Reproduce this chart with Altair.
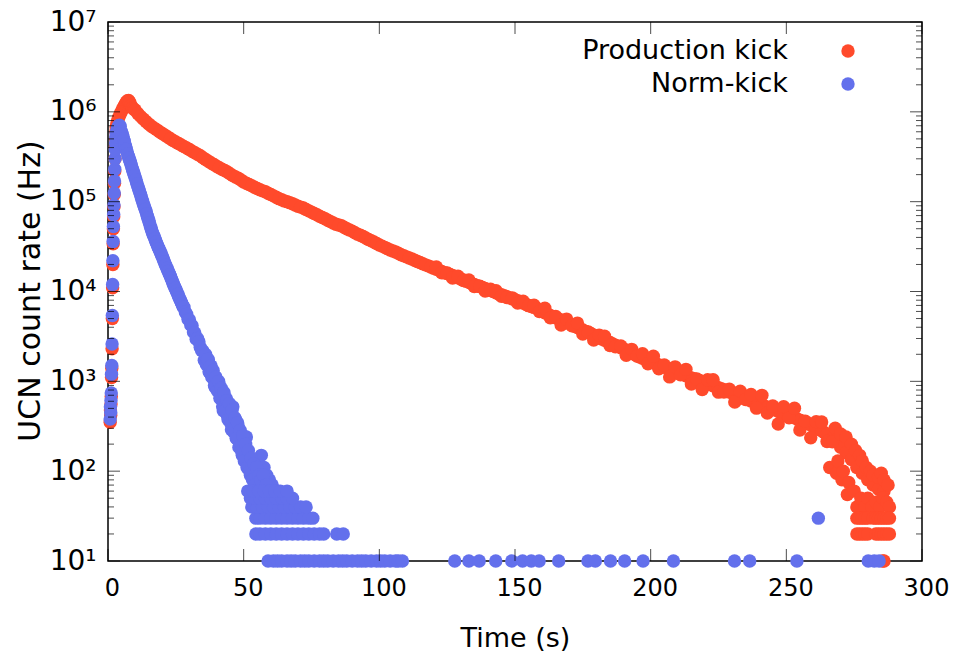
import altair as alt
import pandas as pd

series_names = ["Production kick", "Norm-kick"]
series_colors = ["#ff4a2b", "#6370ec"]

# ---- rising edge (shared times) ----
rise_t = [0.8, 0.9, 1.0, 1.1, 1.2, 1.3, 1.4, 1.5, 1.6, 1.7, 1.8, 1.9, 2.0, 2.1, 2.2, 2.3,
          2.4, 2.5, 2.6, 2.7, 2.8, 2.9, 3.0]
red_rise = [350, 480, 420, 560, 680, 1100, 1400, 2300, 5000, 11000, 20000, 34000, 50000,
            68000, 88000, 120000, 160000, 220000, 300000, 400000, 500000, 600000, 680000]
blue_rise = [380, 520, 450, 610, 740, 1200, 1500, 2600, 5400, 12000, 22000, 36000, 53000,
             72000, 92000, 125000, 170000, 230000, 300000, 380000, 450000, 520000, 580000]

# ---- production kick: peak region ----
red_peak_t = [3.3, 3.6, 4.0, 4.4, 4.8, 5.2, 5.6, 6.0, 6.4, 6.8, 7.2, 7.6, 8.0, 8.5, 9.0, 9.5, 10, 11]
red_peak_v = [750000, 810000, 870000, 930000, 990000, 1050000, 1110000, 1170000, 1230000,
              1290000, 1330000, 1340000, 1280000, 1180000, 1110000, 1070000, 1050000, 960000]

# ---- production kick: decay, every 2 s from 12 s to 286 s ----
red_decay_t = list(range(12, 288, 2))
red_decay_v = [890000, 780000, 690000, 630000, 575000, 525000, 480000, 445000, 410000, 380000,
               350000, 324000, 295000, 270000, 248000, 230000, 214000, 195000, 182000, 166000,
               155000, 145000, 136000, 129000, 120000, 112000, 105000, 100000, 95000, 89000,
               85000, 79000, 74000, 69000, 64500, 60000, 56000, 54000, 50000, 47000,
               43500, 41000, 38000, 35500, 33000, 31000, 29000, 27500, 25700, 24300,
               23000, 21600, 20400, 19300, 18200, 17200, 16200, 15500, 14600, 13800,
               13000, 12300, 11600, 11100, 10500, 10000, 9400, 9000, 8500, 8100,
               7700, 7200, 6800, 6500, 6000, 5600, 5250, 4950, 4700, 4400,
               4100, 3850, 3600, 3400, 3150, 2950, 2800, 2600, 2450, 2300,
               2150, 2000, 1860, 1760, 1660, 1570, 1480, 1410, 1330, 1260,
               1190, 1120, 1070, 1020, 965, 920, 870, 830, 785, 740,
               700, 660, 625, 590, 560, 530, 500, 480, 450, 425,
               405, 380, 360, 340, 315, 295, 270, 245, 220, 185,
               160, 135, 110, 95, 80, 70, 63, 60]

# ---- production kick: in-between points, odd seconds 13..119 ----
red_odd1_t = list(range(13, 121, 2))
red_odd1_v = [833000, 734000, 659000, 602000, 549000, 502000, 462000, 427000, 395000, 365000,
              337000, 309000, 282000, 259000, 239000, 222000, 204000, 188000, 174000, 160000,
              150000, 140000, 132000, 124000, 116000, 108000, 102000, 97500, 92000, 87000,
              82000, 76500, 71500, 66700, 62200, 58000, 55000, 52000, 48500, 45200,
              42200, 39500, 36700, 34200, 32000, 30000, 28200, 26600, 25000, 23600,
              22300, 21000, 19800, 18700]

# ---- production kick: band centre, odd seconds 121..267 ----
red_odd3_t = list(range(121, 269, 2))
red_odd3_v = [17700, 16700, 15850, 15050, 14200, 13400, 12650, 11950, 11350, 10800,
              10250, 9700, 9200, 8750, 8300, 7900, 7450, 7000, 6650, 6250,
              5800, 5420, 5100, 4820, 4550, 4250, 3970, 3720, 3500, 3270,
              3050, 2870, 2700, 2520, 2370, 2220, 2070, 1930, 1810, 1710,
              1610, 1520, 1440, 1370, 1290, 1220, 1150, 1090, 1040, 990,
              940, 895, 850, 805, 760, 720, 680, 640, 605, 575,
              545, 515, 490, 465, 437, 415, 392, 370, 350, 327,
              305, 282, 257, 232]

# ---- production kick: scattered points, odd seconds 121..267 ----
red_odd2_t = list(range(121, 269, 2))
red_odd2_v = [18800, 16200, 16100, 14150, 14800, 13240, 13400, 11380, 11420, 10150,
              10620, 10220, 8870, 8590, 8500, 7430, 7810, 6960, 7050, 5990,
              6500, 5090, 5280, 4240, 4930, 4150, 4450, 3360, 3540, 2880,
              3270, 3180, 2510, 2430, 2480, 1950, 2270, 1910, 2030, 1570,
              1900, 1380, 1520, 1120, 1450, 1180, 1360, 933, 1060, 812,
              1040, 1040, 758, 762, 815, 590, 778, 628, 714, 503,
              698, 443, 531, 335, 523, 392, 502, 287, 360, 235,
              356, 353, 214, 212]

# ---- production kick: tail ----
red_tail_t = [266, 268, 268.5, 269, 270, 270.5, 271, 272, 272.5, 273, 274, 275, 275.5, 276, 277,
              277.5, 278, 279, 279.5, 280, 281, 281.5, 282, 283, 284, 284.5, 285, 285.5, 286,
              287, 287.5, 288,
              276, 277, 278, 279, 280, 282, 283, 284, 285, 286, 287, 288,
              276, 277, 278, 279, 280, 283, 284, 285, 286, 287, 288,
              285.5, 286]
red_tail_v = [110, 300, 95, 130, 260, 80, 100, 240, 55, 75, 200, 60, 170, 40, 150,
              50, 130, 40, 110, 50, 100, 40, 90, 45, 85, 40, 95, 50, 80,
              45, 70, 40,
              30, 30, 30, 30, 30, 30, 30, 30, 30, 30, 30, 30,
              20, 20, 20, 20, 20, 20, 20, 20, 20, 20, 20,
              10, 10]

# ---- norm-kick: peak and smooth decay ----
blue_peak_t = [3.3, 3.6, 3.9, 4.2, 4.5]
blue_peak_v = [630000, 670000, 700000, 710000, 690000]
blue_decay_t = [5.0 + 0.5 * i for i in range(46)]
blue_decay_v = [600000, 530000, 470000, 410000, 360000, 320000, 290000, 260000, 230000, 207000,
                186000, 166000, 148000, 133000, 120000, 107000, 95000, 86000, 78000, 69000,
                62000, 55000, 49000, 44000, 41000, 37000, 34000, 31000, 29000, 26600,
                24500, 22400, 20400, 18800, 17400, 16000, 14800, 13500, 12300, 11400,
                10500, 9700, 8900, 8200, 7600, 7000]
blue_mid_t = [5.25 + 0.5 * i for i in range(46)]
blue_mid_v = [564000, 500000, 439000, 384000, 339000, 305000, 275000, 245000, 218000, 196000,
              176000, 157000, 140000, 126000, 113000, 101000, 90400, 81900, 73400, 65400,
              58400, 51900, 46400, 42500, 39000, 35500, 32500, 30000, 27800, 25500,
              23400, 21400, 19600, 18100, 16700, 15400, 14100, 12900, 11800, 10900,
              10100, 9300, 8540, 7900, 7290, 6700]
# ---- norm-kick: noisy part, every 0.5 s from 28 s to 61 s ----
blue_noisy_t = [28.0 + 0.5 * i for i in range(67)]
blue_noisy_v = [6700, 5900, 5600, 4900, 4850, 4250, 4150, 3550, 3450, 2950,
                3000, 2750, 2400, 2210, 2170, 1720, 1990, 1620, 1740, 1250,
                1480, 1100, 1150, 860, 1030, 834, 920, 642, 685, 470,
                660, 650, 416, 416, 462, 289, 520, 322, 375, 231,
                319, 206, 236, 150, 217, 160, 240, 116, 141, 90,
                130, 120, 80, 100, 90, 70, 110, 150, 70, 110,
                60, 90, 50, 80, 40, 70, 40]
blue_noisy2_t = [36.25 + 0.5 * i for i in range(40)] + [56.25, 56.75, 57.25, 58.25, 59.25,
                                                         60.5, 62.5, 64.5, 67]
blue_noisy2_v = [1540, 1760, 1280, 1470, 1120, 1320, 900, 1115, 790, 1000,
                 650, 840, 520, 750, 470, 610, 376, 565, 342, 480,
                 274, 394, 232, 347, 184, 284, 168, 250, 130, 200,
                 110, 170, 100, 140, 80, 120, 70, 110, 60, 90,
                 80, 60, 90, 70, 60, 50, 60, 40, 50]
# ---- norm-kick: low-count levels ----
blue_low_t = [54.5, 56, 58, 60, 62, 64, 66, 68, 70, 72, 74, 76, 78, 79.5, 84.3, 86.7,
              54.5, 56, 58, 60, 62, 64, 66, 68, 70, 72, 74, 75.5,
              53, 55, 57, 59, 61, 63, 65, 67, 69, 71, 73,
              52.5, 54, 56, 58, 60, 62, 64, 66, 68,
              51.5, 53.5, 55.5, 57.5, 59.5, 61.5, 63.5, 66,
              261.8]
blue_low_v = [20] * 16 + [30] * 12 + [40] * 11 + [50] * 9 + [60] * 8 + [30]
blue_floor_t = [59, 61, 62.5, 64, 66, 67.5, 69, 71, 72.5, 74, 76, 78, 79.5, 81, 83, 85, 86.5,
                88, 90, 92, 93.5, 95, 97, 99, 100.5, 102, 104, 106, 107, 108.5,
                127.8, 133.0, 136.8, 142.9, 148.8, 152.8, 156.0, 158.9, 166.1, 176.9, 179.6,
                185.2, 190.4, 197.2, 208.4, 230.9, 236.5, 253.9, 280.2, 282.4, 284.2]
blue_floor_v = [10] * len(blue_floor_t)

x_ticks = [0, 50, 100, 150, 200, 250, 300]
y_ticks = [10, 100, 1000, 10000, 100000, 1000000, 10000000]
y_tick_labels = ["10¹", "10²", "10³", "10⁴", "10⁵", "10⁶", "10⁷"]
y_minor = [m * d for d in y_ticks[:-1] for m in range(2, 10)]

rows = []
def add(name, ts, vs):
    for t, v in zip(ts, vs):
        rows.append({"series": name, "time": t, "rate": v})

add(series_names[0], rise_t, red_rise)
add(series_names[0], red_peak_t, red_peak_v)
add(series_names[0], red_decay_t, red_decay_v)
add(series_names[0], red_odd1_t, red_odd1_v)
add(series_names[0], red_odd3_t, red_odd3_v)
add(series_names[0], red_odd2_t, red_odd2_v)
add(series_names[0], red_tail_t, red_tail_v)
add(series_names[1], rise_t, blue_rise)
add(series_names[1], blue_peak_t, blue_peak_v)
add(series_names[1], blue_decay_t, blue_decay_v)
add(series_names[1], blue_mid_t, blue_mid_v)
add(series_names[1], blue_noisy_t, blue_noisy_v)
add(series_names[1], blue_noisy2_t, blue_noisy2_v)
add(series_names[1], blue_low_t, blue_low_v)
add(series_names[1], blue_floor_t, blue_floor_v)
df = pd.DataFrame(rows)

W, H = 814, 539
FONT = "DejaVu Sans"
DOT = 180
xscale = alt.Scale(domain=[0, 300], nice=False, zero=False)
yscale = alt.Scale(type="log", domain=[10, 1e7], nice=False)

label_map = "{" + ",".join(f"'{v}':'{l}'" for v, l in zip(y_ticks, y_tick_labels)) + "}"

ax_x = alt.Axis(values=x_ticks, title="Time (s)", ticks=False, domain=False,
                grid=False, labelFontSize=24, labelPadding=15, labelFlush=False,
                labelOffset=4,
                labelOverlap=False, format="d", titleFontSize=27, titleFontWeight="normal",
                labelFont=FONT, titleFont=FONT, labelColor="black", titleColor="black",
                titleX=W / 2, titleY=77, titleBaseline="middle")
ax_y = alt.Axis(values=y_ticks, title="UCN count rate (Hz)", ticks=False,
                domain=False, grid=False, labelFontSize=28, labelPadding=12,
                labelFlush=False, labelOverlap=False,
                labelFont=FONT, titleFont=FONT, labelColor="black", titleColor="black",
                labelExpr=label_map + "[''+datum.value]",
                titleFontSize=30, titleFontWeight="normal", titleX=-78, titleY=H / 2 - 1,
                titleBaseline="middle", titleAlign="center")

points = alt.Chart(df).mark_circle(size=DOT, opacity=1).encode(
    x=alt.X("time:Q", scale=xscale, axis=ax_x),
    y=alt.Y("rate:Q", scale=yscale, axis=ax_y),
    color=alt.Color("series:N", scale=alt.Scale(domain=series_names, range=series_colors),
                    legend=None),
)

xt = pd.DataFrame({"time": x_ticks})
ym = pd.DataFrame({"rate": y_ticks})
yn = pd.DataFrame({"rate": y_minor})

def xtick(ypix):
    return alt.Chart(xt).mark_tick(color="black", thickness=1, size=12, orient="vertical").encode(
        x=alt.X("time:Q", scale=xscale, axis=ax_x), y=alt.value(ypix))

def ytick(data, xpix, size):
    return alt.Chart(data).mark_tick(color="black", thickness=1, size=size, orient="horizontal").encode(
        y=alt.Y("rate:Q", scale=yscale, axis=ax_y), x=alt.value(xpix))

ticks = [xtick(H - 6), xtick(6),
         ytick(ym, 6, 12), ytick(ym, W - 6, 12),
         ytick(yn, 3, 6), ytick(yn, W - 3, 6)]

legend_layers = []
for i, name in enumerate(series_names):
    ldf = pd.DataFrame({"label": [name]})
    ypix = 29 + 33 * i
    legend_layers.append(alt.Chart(ldf).mark_text(
        align="right", baseline="middle", fontSize=27, font=FONT, color="black").encode(
        text="label:N", x=alt.value(680), y=alt.value(ypix)))
    legend_layers.append(alt.Chart(ldf).mark_circle(size=DOT, opacity=1, color=series_colors[i]).encode(
        x=alt.value(740), y=alt.value(ypix)))

chart = alt.layer(points, *ticks, *legend_layers).properties(
    width=W, height=H,
    padding={"left": 108, "top": 22, "right": 35, "bottom": 96},
    autosize="none",
    background="white",
).configure_view(stroke="black", strokeWidth=1.5)

chart.save("out.html", embed_options={"renderer": "svg", "actions": False})
